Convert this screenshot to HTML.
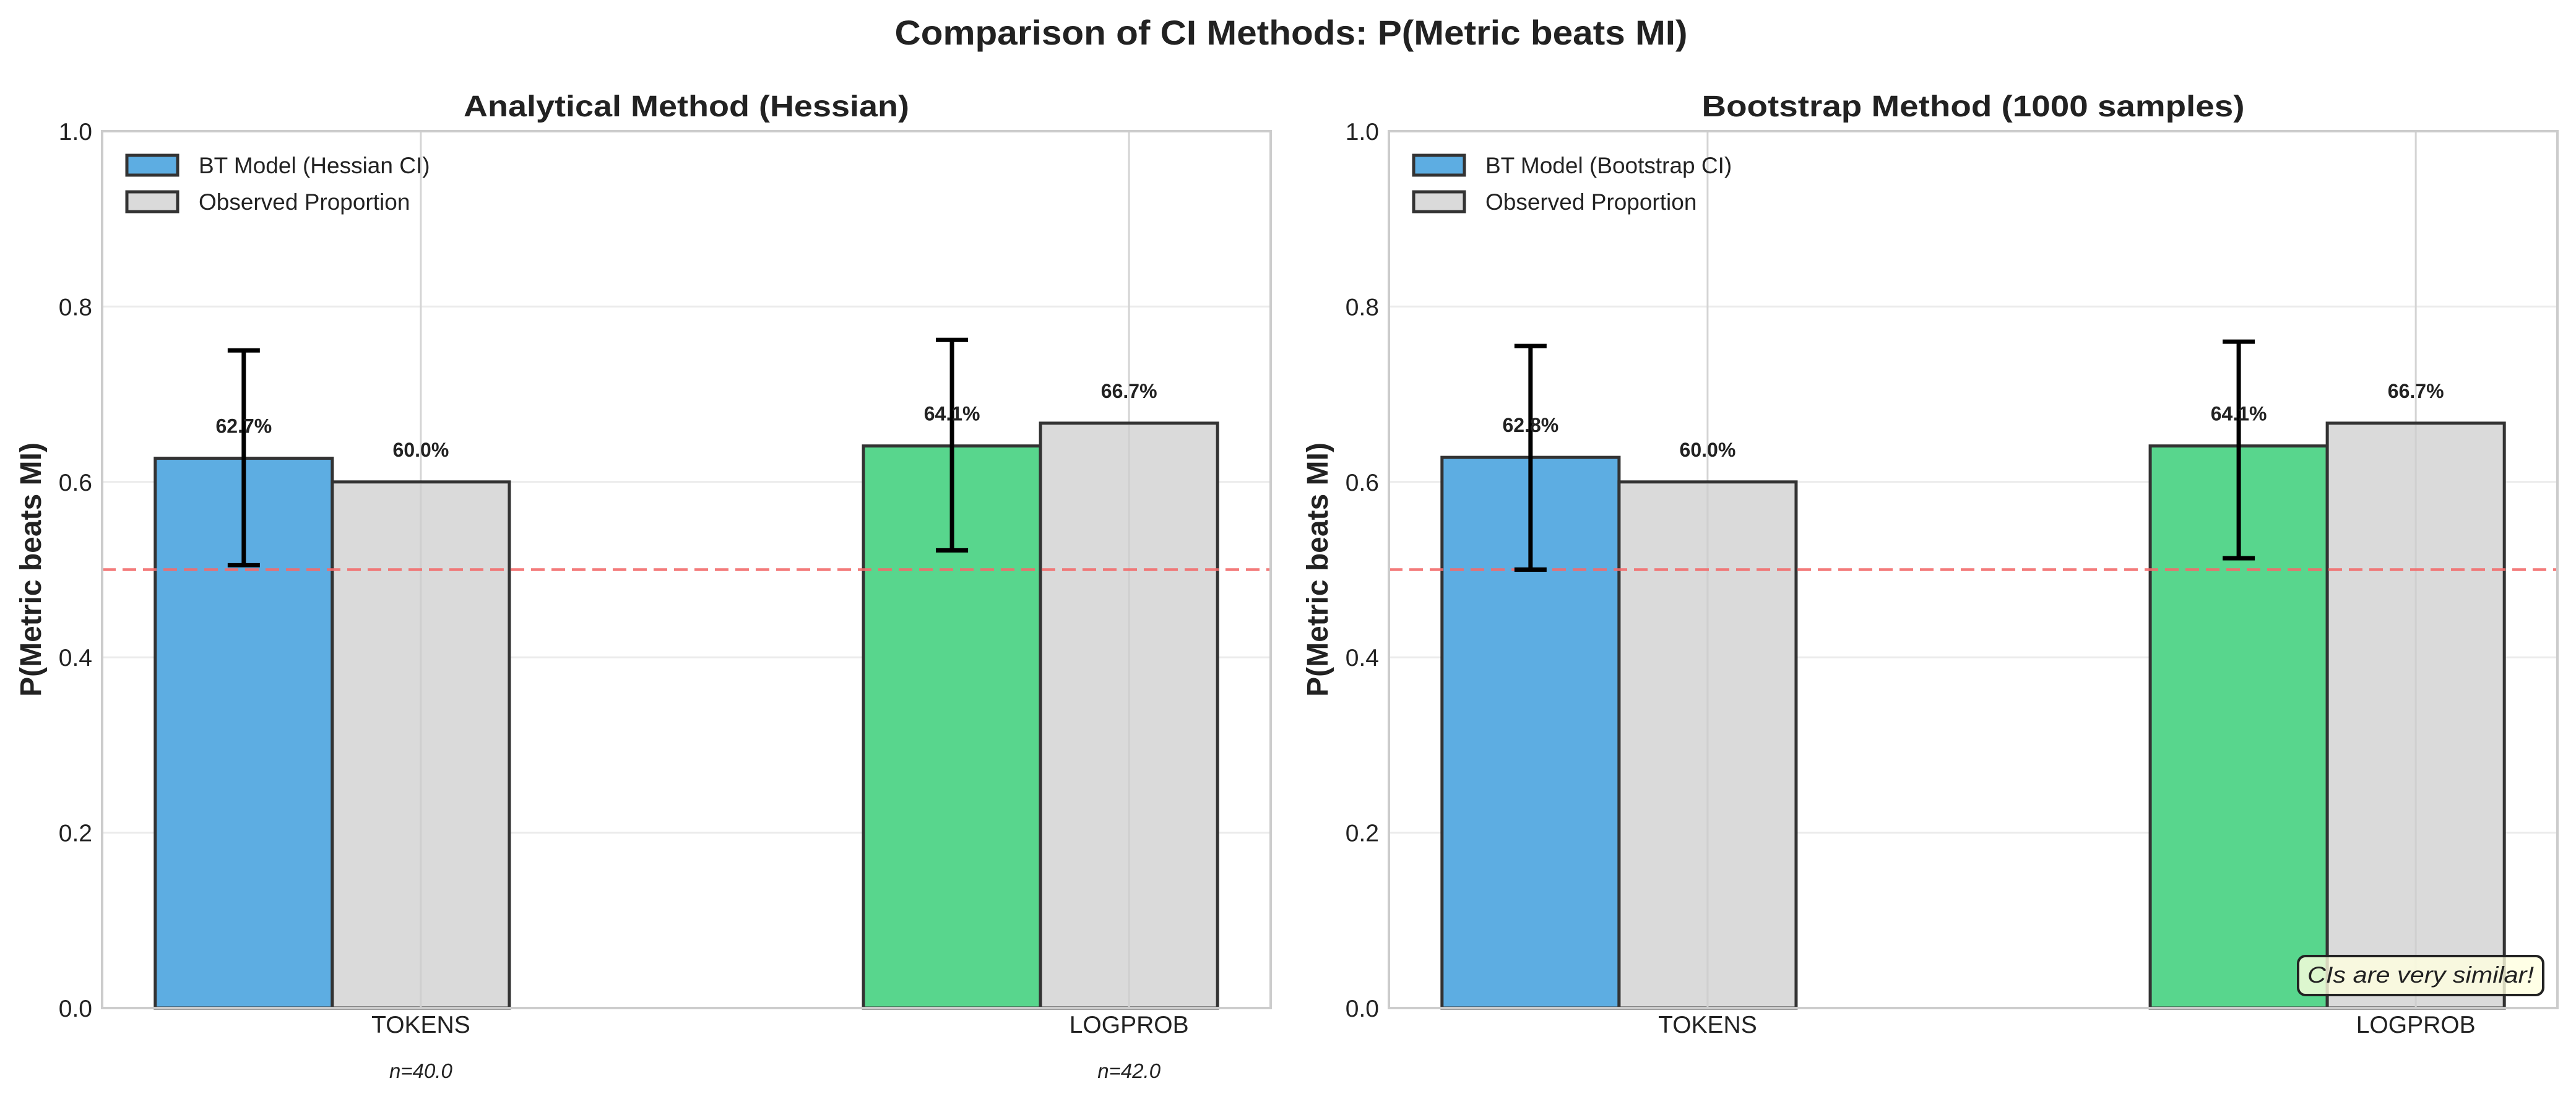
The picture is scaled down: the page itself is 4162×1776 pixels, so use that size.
<!DOCTYPE html>
<html><head><meta charset="utf-8"><style>
html,body{margin:0;padding:0;background:#fff}
svg{display:block;font-family:"Liberation Sans",Arial,sans-serif}
</style></head><body>
<svg id="fig" width="4162" height="1776" viewBox="0 0 4162 1776" xmlns="http://www.w3.org/2000/svg">
<text x="2086" y="72" text-anchor="middle" font-size="56" font-weight="bold" fill="#222" textLength="1281" lengthAdjust="spacingAndGlyphs">Comparison of CI Methods: P(Metric beats MI)</text>
<g id="panels"></g>
</svg>
<script>
const categories = ["TOKENS", "LOGPROB"];
const sampleSizes = ["n=40.0", "n=42.0"];
const hessianValues = [0.627, 0.641];
const hessianLow = [0.505, 0.522];
const hessianHigh = [0.750, 0.762];
const bootstrapValues = [0.628, 0.641];
const bootstrapLow = [0.500, 0.513];
const bootstrapHigh = [0.755, 0.760];
const observedValues = [0.600, 0.667];
const yTicks = [0.0, 0.2, 0.4, 0.6, 0.8, 1.0];
const yTickLabels = ["0.0", "0.2", "0.4", "0.6", "0.8", "1.0"];
const refLine = 0.5;

const NS = "http://www.w3.org/2000/svg";
const root = document.getElementById('panels');
function mk(tag, attrs, parent) {
  const e = document.createElementNS(NS, tag);
  for (const k in attrs) e.setAttribute(k, attrs[k]);
  (parent || root).appendChild(e);
  return e;
}
const BAR_COLORS = ["#5dade2", "#58d68d"];
const GRAY = "#dadada";
const EDGE = "#333";
const W = 0.25;

function panel(opts) {
  const L = opts.left, R = opts.left + 1888, T = 212, B = 1629;
  const xs = v => L + (v + 0.2) / 1.65 * (R - L);
  const ys = v => B - v * (B - T);
  const g = mk('g', {});
  
  

  yTicks.forEach((t, i) => {
    const gl = mk('line', {x1: L, x2: R, y1: ys(t), y2: ys(t), stroke: '#ebebeb', 'stroke-width': 3}, g);
    
    
    const tl = mk('text', {x: L - 16, y: ys(t) + 14, 'text-anchor': 'end', 'font-size': 39, fill: '#222'}, g);
    tl.textContent = yTickLabels[i];
    
    
  });
  categories.forEach((c, i) => {
    const x = xs(i + W);
    const gl = mk('line', {x1: x, x2: x, y1: T, y2: B, stroke: '#d4d4d4', 'stroke-width': 3}, g);
    
    
    const tl = mk('text', {x: x, y: 1669, 'text-anchor': 'middle', 'font-size': 39, fill: '#222'}, g);
    tl.textContent = c;
    
    
    if (opts.showN) {
      const nl = mk('text', {x: x, y: 1742, 'text-anchor': 'middle', 'font-size': 33, 'font-style': 'italic', fill: '#222'}, g);
      nl.textContent = sampleSizes[i];
      
      
    }
  });
  categories.forEach((c, i) => {
    const v = opts.values[i], o = observedValues[i];
    const b = mk('rect', {x: xs(i - W / 2), y: ys(v), width: xs(W) - xs(0), height: ys(0) - ys(v), fill: BAR_COLORS[i], stroke: EDGE, 'stroke-width': 5}, g);
    
    
    const ob = mk('rect', {x: xs(i + W / 2), y: ys(o), width: xs(W) - xs(0), height: ys(0) - ys(o), fill: GRAY, stroke: EDGE, 'stroke-width': 5}, g);
    
    
  });
  categories.forEach((c, i) => {
    const x = xs(i + W);
    const gl = mk('line', {x1: x, x2: x, y1: ys(observedValues[i]) + 3, y2: B, stroke: '#cfcfcf', 'stroke-width': 3}, g);
    
    
  });
  const rl = mk('line', {x1: L, x2: R, y1: ys(refLine), y2: ys(refLine), stroke: '#f26b6b', 'stroke-opacity': 0.9, 'stroke-width': 4.5, 'stroke-dasharray': '22 11'}, g);
  
  
  categories.forEach((c, i) => {
    const x = xs(i);
    const e = mk('g', {stroke: '#000', 'stroke-width': 7}, g);
    
    
    mk('line', {x1: x, x2: x, y1: ys(opts.low[i]), y2: ys(opts.high[i])}, e);
    mk('line', {x1: x - 26, x2: x + 26, y1: ys(opts.low[i]), y2: ys(opts.low[i])}, e);
    mk('line', {x1: x - 26, x2: x + 26, y1: ys(opts.high[i]), y2: ys(opts.high[i])}, e);
    const vl = mk('text', {x: x, y: ys(opts.values[i]) - 41, 'text-anchor': 'middle', 'font-size': 32, 'font-weight': 'bold', fill: '#222'}, g);
    vl.textContent = (opts.values[i] * 100).toFixed(1) + '%';
    
    
    const ol = mk('text', {x: xs(i + W), y: ys(observedValues[i]) - 41, 'text-anchor': 'middle', 'font-size': 32, 'font-weight': 'bold', fill: '#222'}, g);
    ol.textContent = (observedValues[i] * 100).toFixed(1) + '%';
    
    
  });
  const fr = mk('rect', {x: L, y: T, width: R - L, height: B - T, fill: 'none', stroke: '#cccccc', 'stroke-width': 4}, g);
  
  
  const st = mk('text', {x: (L + R) / 2, y: 188, 'text-anchor': 'middle', 'font-size': 48, 'font-weight': 'bold', fill: '#222', textLength: opts.titleLen, lengthAdjust: 'spacingAndGlyphs'}, g);
  st.textContent = opts.title;
  
  
  const yl = mk('text', {x: 0, y: 0, 'text-anchor': 'middle', 'font-size': 48, 'font-weight': 'bold', fill: '#222', transform: 'translate(' + (L - 99) + ',' + ((T + B) / 2) + ') rotate(-90)'}, g);
  yl.textContent = 'P(Metric beats MI)';
  
  
  const lg = mk('g', {}, g);
  
  
  const items = [[opts.legend1, '#5dade2'], ['Observed Proportion', GRAY]];
  items.forEach((it, k) => {
    const cy = 267 + k * 59;
    const h = mk('rect', {x: L + 40, y: cy - 16, width: 82, height: 32, fill: it[1], stroke: EDGE, 'stroke-width': 5}, lg);
    
    
    const t = mk('text', {x: L + 156, y: cy + 13, 'font-size': 37, fill: '#222'}, lg);
    t.textContent = it[0];
    
    
  });
  return {g, L, R, xs, ys};
}

panel({name: 'analytical-panel', left: 165, values: hessianValues, low: hessianLow, high: hessianHigh, title: 'Analytical Method (Hessian)', titleLen: 720, legend1: 'BT Model (Hessian CI)', showN: true});
const p2 = panel({name: 'bootstrap-panel', left: 2244, values: bootstrapValues, low: bootstrapLow, high: bootstrapHigh, title: 'Bootstrap Method (1000 samples)', titleLen: 877, legend1: 'BT Model (Bootstrap CI)', showN: false});

const ann = mk('g', {}, p2.g);


mk('rect', {x: 3713, y: 1545, width: 396, height: 63, rx: 12, fill: '#ffffe0', 'fill-opacity': 0.8, stroke: '#222', 'stroke-width': 4}, ann);
const at = mk('text', {x: 3911, y: 1588, 'text-anchor': 'middle', 'font-size': 37, 'font-style': 'italic', fill: '#222', textLength: 366, lengthAdjust: 'spacingAndGlyphs'}, ann);
at.textContent = 'CIs are very similar!';


</script>
</body></html>
